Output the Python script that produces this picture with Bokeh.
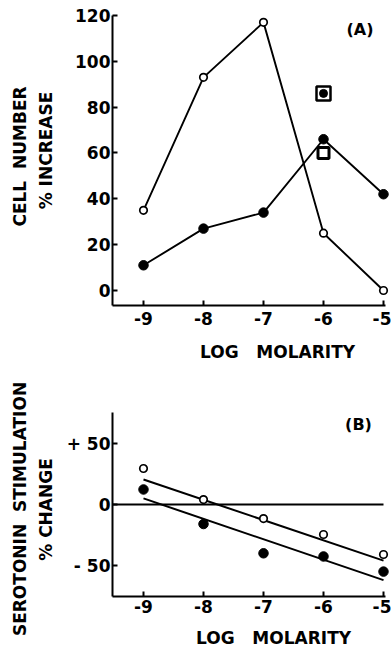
from math import pi
from bokeh.plotting import figure
from bokeh.models import (Label, FixedTicker, Range1d, LinearAxis)
from bokeh.embed import file_html
from bokeh.resources import INLINE

# ---------------- data ----------------
log_molarity = [-9, -8, -7, -6, -5]
x_tick_labels = ["-9", "-8", "-7", "-6", "-5"]

# Panel A: cell number % increase
a_open = [35, 93, 117, 25, 0]
a_filled = [11, 27, 34, 66, 42]
a_box_filled_x = [-6]
a_box_filled_y = [86]
a_box_open_x = [-6]
a_box_open_y = [60]
a_yticks = [0, 20, 40, 60, 80, 100, 120]

# Panel B: serotonin stimulation % change
b_open = [29.5, 4, -11.5, -24.6, -41]
b_filled = [12.3, -16, -40, -42.6, -55]
fit_x = [-9, -5]
fit_open = [20.5, -46]
fit_filled = [5, -62]
b_yticks = [-50, 0, 50]
b_ytick_labels = ["- 50", "0", "+ 50"]
b_zero_x = [-9.517, -5]
b_zero_y = [0, 0]

# ---------------- geometry (pixels of the 391x650 canvas) ----------------
W, H = 391, 650
X_PX_PER_UNIT = 60.0
X0_PX = 143.0            # pixel of x = -9
A_PX_PER_UNIT = 2.2917
A0_PX = 290.0            # pixel of y = 0 in panel A
B_PX_PER_UNIT = 1.22
B0_PX = 504.0            # pixel of y = 0 in panel B

A_YLO, A_YHI = -6.5, 120
B_YLO, B_YHI = -75.4, 75.4
X_LO, X_HI = -9.517, -4.967


def fx(px):
    return -9 + (px - X0_PX) / X_PX_PER_UNIT


def fa(py):
    return (A0_PX - py) / A_PX_PER_UNIT


def fb(py):
    return (B0_PX - py) / B_PX_PER_UNIT


FONT = "DejaVu Sans"
SIZE = "17px"

p = figure(width=W, height=H, output_backend="svg", toolbar_location=None,
           x_range=Range1d(fx(0), fx(W)), y_range=Range1d(fa(H), fa(0)),
           x_axis_type=None, y_axis_type=None,
           min_border=0, min_border_left=0, min_border_right=0,
           min_border_top=0, min_border_bottom=0)
p.extra_y_ranges = {"B": Range1d(fb(H), fb(0))}
p.outline_line_color = None
p.background_fill_color = "white"
p.border_fill_color = "white"


def style_axis(ax):
    ax.axis_line_width = 2
    ax.axis_line_color = "black"
    ax.major_tick_line_width = 2
    ax.major_tick_line_color = "black"
    ax.major_tick_in = 5
    ax.major_tick_out = 0
    ax.minor_tick_line_color = None
    ax.major_label_text_font = FONT
    ax.major_label_text_font_style = "bold"
    ax.major_label_text_font_size = SIZE
    ax.major_label_text_color = "black"


x_overrides = {t: s for t, s in zip(log_molarity, x_tick_labels)}

# Panel A axes
ya = LinearAxis(fixed_location=X_LO, bounds=(A_YLO, A_YHI),
                ticker=FixedTicker(ticks=a_yticks), major_label_standoff=2)
xa = LinearAxis(fixed_location=A_YLO, bounds=(X_LO, X_HI),
                ticker=FixedTicker(ticks=log_molarity), major_label_standoff=7,
                major_label_overrides=x_overrides)
# Panel B axes
yb = LinearAxis(y_range_name="B", fixed_location=X_LO, bounds=(B_YLO, B_YHI),
                ticker=FixedTicker(ticks=b_yticks), major_label_standoff=2,
                major_label_overrides={t: s for t, s in zip(b_yticks, b_ytick_labels)})
xb = LinearAxis(y_range_name="B", fixed_location=B_YLO, bounds=(X_LO, X_HI),
                ticker=FixedTicker(ticks=log_molarity), major_label_standoff=4,
                major_label_overrides=x_overrides)
for ax in (ya, xa, yb, xb):
    style_axis(ax)
p.add_layout(ya, "left")
p.add_layout(yb, "left")
p.add_layout(xa, "below")
p.add_layout(xb, "below")

# Panel A marks
p.line(log_molarity, a_open, line_color="black", line_width=1.9)
p.line(log_molarity, a_filled, line_color="black", line_width=1.9)
p.scatter(a_box_filled_x, a_box_filled_y, marker="square", size=14,
          fill_color="white", line_color="black", line_width=2.5)
p.scatter(a_box_filled_x, a_box_filled_y, marker="circle", size=8,
          fill_color="black", line_color="black")
p.scatter(a_box_open_x, a_box_open_y, marker="square", size=11,
          fill_color="white", line_color="black", line_width=3)
p.scatter(log_molarity, a_open, marker="circle", size=7.5,
          fill_color="white", line_color="black", line_width=1.7)
p.scatter(log_molarity, a_filled, marker="circle", size=9.5,
          fill_color="black", line_color="black")

# Panel B marks
p.line(b_zero_x, b_zero_y, y_range_name="B", line_color="black", line_width=2)
p.line(fit_x, fit_open, y_range_name="B", line_color="black", line_width=2)
p.line(fit_x, fit_filled, y_range_name="B", line_color="black", line_width=2)
p.scatter(log_molarity, b_open, y_range_name="B", marker="circle", size=7.5,
          fill_color="white", line_color="black", line_width=1.7)
p.scatter(log_molarity, b_filled, y_range_name="B", marker="circle", size=9.5,
          fill_color="black", line_color="black")


def label(px, py, text, angle=0, size=SIZE):
    p.add_layout(Label(x=fx(px), y=fa(py), text=text, angle=angle,
                       text_align="center", text_baseline="middle",
                       text_font=FONT, text_font_style="bold",
                       text_font_size=size, text_color="black"))


label(19.5, 156, "CELL\u00a0 NUMBER", angle=pi / 2)
label(45, 150, "% INCREASE", angle=pi / 2)
label(277, 351.5, "LOG\u00a0\u00a0 MOLARITY")
label(359.5, 28.5, "(A)", size="16px")

label(19.5, 508.5, "SEROTONIN\u00a0 STIMULATION", angle=pi / 2)
label(45, 509, "% CHANGE", angle=pi / 2)
label(273, 637, "LOG\u00a0\u00a0 MOLARITY")
label(358, 424, "(B)", size="16px")

open("out.html", "w").write(file_html(p, INLINE))
